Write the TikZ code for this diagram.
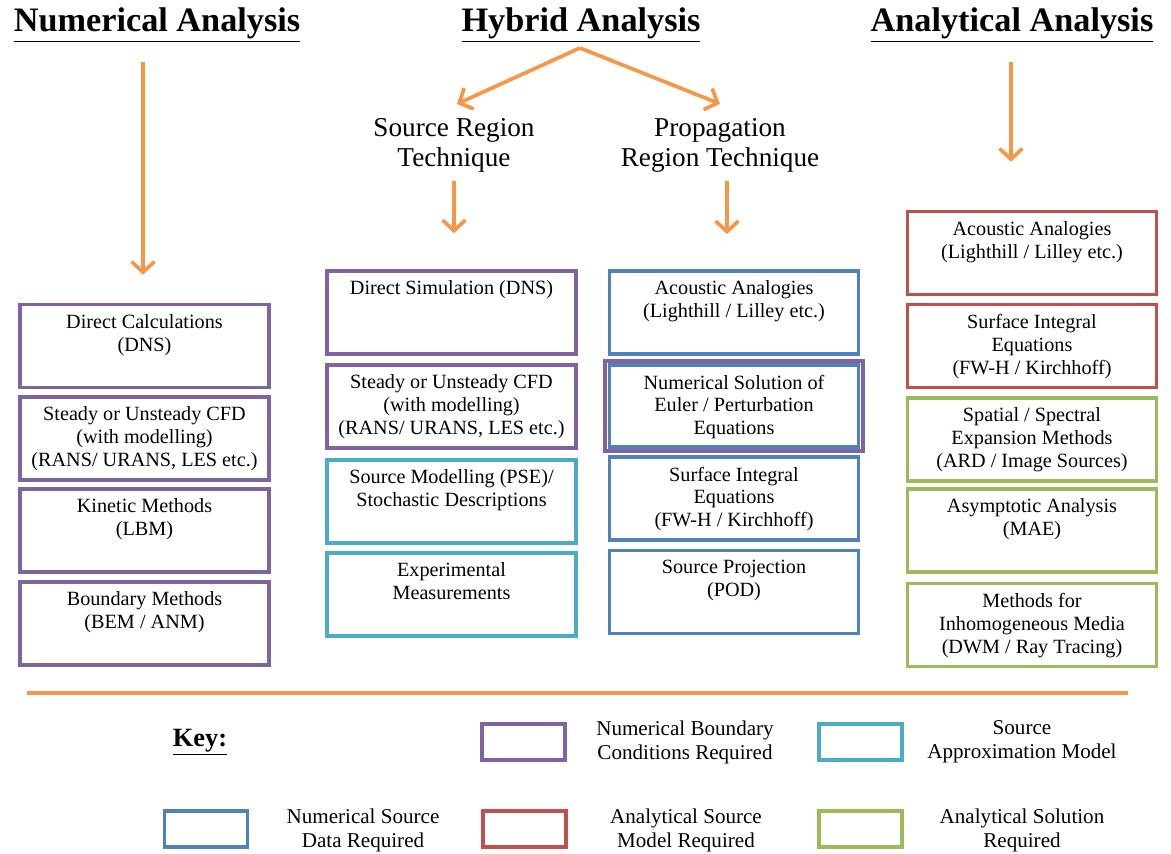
\documentclass[tikz,border=0pt]{standalone}
\usepackage{fontspec}
\setmainfont{Liberation Serif}
\usetikzlibrary{arrows.meta, positioning}
\definecolor{numpurple}{RGB}{128,100,162}
\definecolor{srccyan}{RGB}{75,172,198}
\definecolor{numblue}{RGB}{79,129,189}
\definecolor{anared}{RGB}{192,80,77}
\definecolor{anagreen}{RGB}{155,187,89}
\definecolor{flow}{RGB}{247,150,70}
\tikzset{%
	method/.style={
		draw=#1,
		line width=2.1pt,
		minimum width=4.98cm,
		minimum height=1.66cm,
		inner sep=0pt
	},
	method text/.style={
		anchor=north,
		align=center,
		inner sep=3pt,
		yshift=-0.12cm,
		font=\fontsize{11.5}{13}\selectfont
	},
	key swatch/.style={
		draw=#1,
		line width=2.1pt,
		minimum width=1.66cm,
		minimum height=0.72cm
	},
	key text/.style={
		align=center,
		font=\fontsize{12}{13.6}\selectfont
	},
	heading/.style={
		font=\fontsize{19.5}{22}\selectfont\bfseries
	},
	technique/.style={
		align=center,
		font=\fontsize{15.5}{17}\selectfont
	},
	flow arrow/.style={
		draw=flow,
		line width=2.1pt,
		-{Straight Barb[length=6pt,width=13pt]}
	},
}
\begin{document}
\begin{tikzpicture}[x=0.02cm, y=-0.02cm]
	\useasboundingbox (0,0) rectangle (1171,854);
	% headings
	\node[heading] (num) at (157,25) {\underline{Numerical Analysis}};
	\node[heading] (hyb) at (581,25) {\underline{Hybrid Analysis}};
	\node[heading] (ana) at (1012,25) {\underline{Analytical Analysis}};
	\node[technique] (src) at (454,145) {Source Region\\Technique};
	\node[technique] (prop) at (720,145) {Propagation\\Region Technique};
	\coordinate (apex) at (580,48);
	\coordinate (num from) at (143,62);
	\coordinate (ana from) at (1011,62);

	% numerical column
	\node[method=numpurple, label={[method text]north:{Direct Calculations\\(DNS)}}] (n1) at (144.5,346) {};
	\node[method=numpurple, label={[method text]north:{Steady or Unsteady CFD\\(with modelling)\\(RANS/ URANS, LES etc.)}}] (n2) at (144.5,438.5) {};
	\node[method=numpurple, label={[method text]north:{Kinetic Methods\\(LBM)}}] (n3) at (144.5,530.5) {};
	\node[method=numpurple, label={[method text]north:{Boundary Methods\\(BEM / ANM)}}] (n4) at (144.5,623.5) {};

	% source region column
	\node[method=numpurple, label={[method text]north:{Direct Simulation (DNS)}}] (s1) at (451.5,312.5) {};
	\node[method=numpurple, label={[method text]north:{Steady or Unsteady CFD\\(with modelling)\\(RANS/ URANS, LES etc.)}}] (s2) at (451.5,406.5) {};
	\node[method=srccyan, label={[method text]north:{Source Modelling (PSE)/\\Stochastic Descriptions}}] (s3) at (451.5,501.5) {};
	\node[method=srccyan, label={[method text]north:{Experimental\\Measurements}}] (s4) at (451.5,594.5) {};

	% propagation region column
	\node[method=numblue, label={[method text]north:{Acoustic Analogies\\(Lighthill / Lilley etc.)}}] (p1) at (734,312.5) {};
	\node[method=numpurple, minimum width=5.16cm, minimum height=1.8cm] (p2 outer) at (734,406) {};
	\node[method=numblue, minimum height=1.64cm, label={[method text]north:{Numerical Solution of\\Euler / Perturbation\\Equations}}] (p2) at (734,406) {};
	\node[method=numblue, label={[method text]north:{Surface Integral\\Equations\\(FW-H / Kirchhoff)}}] (p3) at (734,498.5) {};
	\node[method=numblue, label={[method text]north:{Source Projection\\(POD)}}] (p4) at (734,592) {};

	% analytical column
	\node[method=anared, label={[method text]north:{Acoustic Analogies\\(Lighthill / Lilley etc.)}}] (a1) at (1032,253) {};
	\node[method=anared, label={[method text]north:{Surface Integral\\Equations\\(FW-H / Kirchhoff)}}] (a2) at (1032,346) {};
	\node[method=anagreen, label={[method text]north:{Spatial / Spectral\\Expansion Methods\\(ARD / Image Sources)}}] (a3) at (1032,439.5) {};
	\node[method=anagreen, label={[method text]north:{Asymptotic Analysis\\(MAE)}}] (a4) at (1032,530.5) {};
	\node[method=anagreen, label={[method text]north:{Methods for\\Inhomogeneous Media\\(DWM / Ray Tracing)}}] (a5) at (1032,625) {};

	% arrows
	\draw[flow arrow, shorten >=0.56cm] (num from) -- (num from |- n1.north);
	\draw[flow arrow] (apex) -- ([shift={(0.06cm,0.16cm)}]src.north);
	\draw[flow arrow] (apex) -- ([shift={(0cm,0.16cm)}]prop.north);
	\draw[flow arrow, shorten <=0.06cm, shorten >=0.72cm] (src.south) -- (src.south |- s1.north);
	\draw[flow arrow] ([xshift=0.14cm,yshift=-0.06cm]prop.south) -- ++(0,53);
	\draw[flow arrow, shorten >=0.96cm] (ana from) -- (ana from |- a1.north);

	% key
	\draw[flow, line width=2.1pt] (27,693) -- (1128,693);
	\node[font=\fontsize{15}{18}\selectfont\bfseries] (key) at (200,742) {\underline{Key:}};
	\node[key swatch=numpurple] (k1) at (523.5,742) {};
	\node[key text] (k1 text) at (685,742) {Numerical Boundary\\Conditions Required};
	\node[key swatch=srccyan] (k2) at (860.5,742) {};
	\node[key text] (k2 text) at (1022,742) {Source\\Approximation Model};
	\node[key swatch=numblue] (k3) at (206,829) {};
	\node[key text] (k3 text) at (363,830) {Numerical Source\\Data Required};
	\node[key swatch=anared] (k4) at (524.5,829) {};
	\node[key text] (k4 text) at (686,830) {Analytical Source\\Model Required};
	\node[key swatch=anagreen] (k5) at (860.5,829) {};
	\node[key text] (k5 text) at (1022,830) {Analytical Solution\\Required};
\end{tikzpicture}
\end{document}
